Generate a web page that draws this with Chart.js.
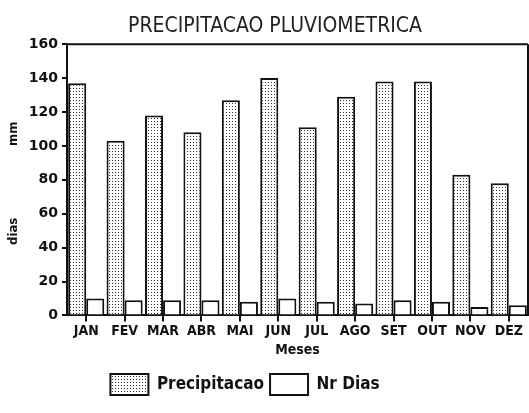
<!DOCTYPE html>
<html>
<head>
<meta charset="utf-8">
<script src="https://cdn.jsdelivr.net/npm/chart.js@4/dist/chart.umd.min.js"></script>
<style>
html,body{margin:0;padding:0;background:#fff;}
#wrap{width:529px;height:413px;}
</style>
</head>
<body>
<div id="wrap"><canvas id="c" width="529" height="413"></canvas></div>
<script>
const months = ['JAN','FEV','MAR','ABR','MAI','JUN','JUL','AGO','SET','OUT','NOV','DEZ'];
const precipitacao = [137,103,118,108,127,140,111,129,138,138,83,78];
const nrDias = [10,9,9,9,8,10,8,7,9,8,5,6];
const yMin = 0, yMax = 160, yStep = 20;
const chartTitle = 'PRECIPITACAO PLUVIOMETRICA';
const xTitle = 'Meses';
const yTitleTop = 'mm';
const yTitleBottom = 'dias';
const FONT = '"DejaVu Sans Condensed", "DejaVu Sans", sans-serif';

function dotPattern(){
  const p = document.createElement('canvas');
  p.width = 3; p.height = 3;
  const g = p.getContext('2d');
  g.fillStyle = '#fff'; g.fillRect(0,0,3,3);
  g.fillStyle = '#333';
  g.fillRect(1,1,1,1);
  const ctx = document.getElementById('c').getContext('2d');
  return ctx.createPattern(p,'repeat');
}
const pat = dotPattern();

const framePlugin = {
  id:'frame',
  afterLayout(chart){
    const t = chart.titleBlock; if (t) { t.left += 22; }
    const l = chart.legend; if (l) { l.left -= 19; l.right -= 19; }
  },
  afterDraw(chart){
    const {ctx, chartArea:a} = chart;
    ctx.save();
    ctx.strokeStyle = '#111'; ctx.lineWidth = 2;
    ctx.beginPath();
    ctx.moveTo(a.left, a.top); ctx.lineTo(a.right, a.top);
    ctx.moveTo(a.right, a.top); ctx.lineTo(a.right, a.bottom);
    ctx.stroke();
    ctx.fillStyle = '#111';
    ctx.font = 'bold 13px ' + FONT;
    ctx.textAlign = 'center'; ctx.textBaseline = 'middle';
    const x = 14;
    const h = a.bottom - a.top;
    [[yTitleTop, a.top + h*0.33],[yTitleBottom, a.top + h*0.69]].forEach(([t,y])=>{
      ctx.save(); ctx.translate(x,y); ctx.rotate(-Math.PI/2); ctx.fillText(t,0,0); ctx.restore();
    });
    ctx.restore();
  }
};

new Chart(document.getElementById('c'), {
  type:'bar',
  data:{
    labels: months,
    datasets:[
      {label:'Precipitacao', data:precipitacao, backgroundColor:pat, borderColor:'#111', borderWidth:2,
       categoryPercentage:0.94, barPercentage:1, inflateAmount:0},
      {label:'Nr Dias', data:nrDias, backgroundColor:'#fff', borderColor:'#111', borderWidth:2,
       categoryPercentage:0.94, barPercentage:1, inflateAmount:0}
    ]
  },
  options:{
    responsive:false, animation:false,
    layout:{padding:{top:0,right:1,left:0,bottom:8}},
    plugins:{
      title:{display:true, text:chartTitle, color:'#222',
        font:{family:FONT, size:21, weight:200},
        padding:{top:14,bottom:5}},
      legend:{position:'bottom',
        labels:{color:'#111', boxWidth:38, boxHeight:21, padding:6,
          font:{family:FONT, size:17, weight:'bold'}}},
      tooltip:{enabled:false}
    },
    scales:{
      x:{
        grid:{display:true, offset:false, drawOnChartArea:false, tickLength:6, color:'#111', lineWidth:2},
        border:{color:'#111', width:2},
        ticks:{color:'#111', padding:2, font:{family:FONT, size:14, weight:'bold'}},
        title:{display:true, text:xTitle, color:'#111', padding:{top:0,bottom:9},
          font:{family:FONT, size:14, weight:'bold'}}
      },
      y:{
        min:yMin, max:yMax,
        afterFit(s){ s.width = 67; },
        grid:{display:true, drawOnChartArea:false, tickLength:5, color:'#111', lineWidth:2},
        border:{color:'#111', width:2},
        ticks:{stepSize:yStep, color:'#111', padding:4,
          font:{family:'"DejaVu Sans", sans-serif', size:14, weight:'bold'}}
      }
    }
  },
  plugins:[framePlugin]
});
</script>
</body>
</html>
